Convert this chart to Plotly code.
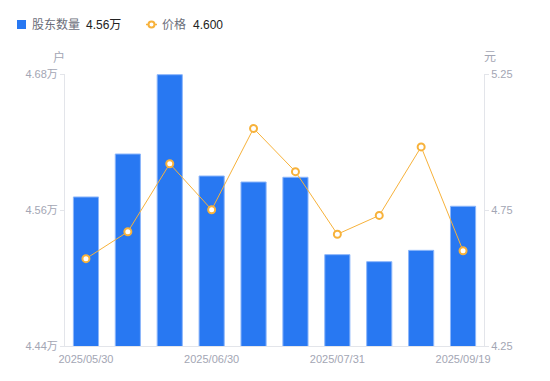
import plotly.graph_objects as go

dates = ["2025/05/30", "2025/06/10", "2025/06/20", "2025/06/30", "2025/07/10",
         "2025/07/20", "2025/07/31", "2025/08/20", "2025/08/31", "2025/09/19"]
holders = [4.5715, 4.6094, 4.6794, 4.5900, 4.5847, 4.5889, 4.5206, 4.5144, 4.5244, 4.5633]
prices = [4.571, 4.670, 4.920, 4.751, 5.050, 4.891, 4.661, 4.730, 4.982, 4.600]
x_ticks = ["2025/05/30", "2025/06/30", "2025/07/31", "2025/09/19"]
left_ticks = [4.44, 4.56, 4.68]
left_labels = ["4.44万", "4.56万", "4.68万"]
right_ticks = [4.25, 4.75, 5.25]
right_labels = ["4.25", "4.75", "5.25"]

FONT = "Liberation Sans, Noto Sans CJK SC, sans-serif"
TICK_COLOR = "#a3a6b4"
AXIS_COLOR = "#e3e5ea"
BLUE = "#2878f2"
ORANGE = "#f7b23b"

L, R, T, B = 65, 66, 74, 35
W, H = 550, 381
PW, PH = W - L - R, H - T - B


def px(x):
    return (x - L) / PW


def py(y):
    return (H - B - y) / PH


fig = go.Figure()
fig.add_trace(go.Bar(
    x=dates, y=holders, width=0.6,
    marker=dict(color=BLUE, line=dict(color="#8cb6fa", width=1)),
    name="股东数量", yaxis="y",
))
fig.add_trace(go.Scatter(
    x=dates, y=prices, mode="lines+markers",
    line=dict(color=ORANGE, width=1),
    marker=dict(symbol="circle", size=7, color="white", line=dict(color=ORANGE, width=2)),
    name="价格", yaxis="y2",
))

shapes = [
    dict(type="rect", xref="paper", yref="paper", x0=px(17), x1=px(26), y0=py(29), y1=py(20),
         fillcolor=BLUE, line=dict(width=0), layer="above"),
    dict(type="line", xref="paper", yref="paper", x0=px(146), x1=px(157), y0=py(24.5), y1=py(24.5),
         line=dict(color=ORANGE, width=1.5), layer="above"),
    dict(type="circle", xref="paper", yref="paper", x0=px(148.5), x1=px(154.5), y0=py(27.5), y1=py(21.5),
         fillcolor="white", line=dict(color=ORANGE, width=2), layer="above"),
]


def label(text, x, color, size=12):
    return dict(text=text, xref="paper", yref="paper", x=px(x), y=py(24.5),
                showarrow=False, xanchor="left", yanchor="middle",
                font=dict(size=size, color=color, family=FONT))


annotations = [
    label("股东数量", 30, "#6b6e7a"),
    label("4.56万", 84, "#222222"),
    label("价格", 160, "#6b6e7a"),
    label("4.600", 191, "#222222"),
    dict(text="户", xref="paper", yref="paper", x=px(59), y=py(57),
         showarrow=False, xanchor="center", yanchor="middle",
         font=dict(size=12, color=TICK_COLOR, family=FONT)),
    dict(text="元", xref="paper", yref="paper", x=px(490), y=py(57),
         showarrow=False, xanchor="center", yanchor="middle",
         font=dict(size=12, color=TICK_COLOR, family=FONT)),
]

fig.update_layout(
    width=W, height=H,
    margin=dict(l=L, r=R, t=T, b=B, autoexpand=False),
    paper_bgcolor="white", plot_bgcolor="white",
    font=dict(family=FONT, size=11, color=TICK_COLOR),
    showlegend=False,
    xaxis=dict(
        type="category", tickmode="array", tickvals=x_ticks, ticktext=x_ticks,
        showgrid=False, showline=True, linecolor=AXIS_COLOR, linewidth=1,
        ticks="", tickfont=dict(size=11, color=TICK_COLOR), ticklabelstandoff=3,
        range=[-0.5, 9.5], automargin=False,
    ),
    yaxis=dict(
        range=[4.44, 4.68], tickvals=left_ticks, ticktext=left_labels,
        showgrid=False, zeroline=False, showline=True, linecolor=AXIS_COLOR, linewidth=1,
        ticks="outside", ticklen=4, tickcolor=AXIS_COLOR,
        tickfont=dict(size=11, color=TICK_COLOR), automargin=False,
    ),
    yaxis2=dict(
        range=[4.25, 5.25], tickvals=right_ticks, ticktext=right_labels,
        overlaying="y", side="right",
        showgrid=False, zeroline=False, showline=True, linecolor=AXIS_COLOR, linewidth=1,
        ticks="outside", ticklen=4, tickcolor=AXIS_COLOR,
        tickfont=dict(size=11, color=TICK_COLOR), automargin=False,
    ),
    shapes=shapes,
    annotations=annotations,
)

fig.write_html("out.html", config={"displayModeBar": False},
               post_script="document.body.style.margin='0px';")
